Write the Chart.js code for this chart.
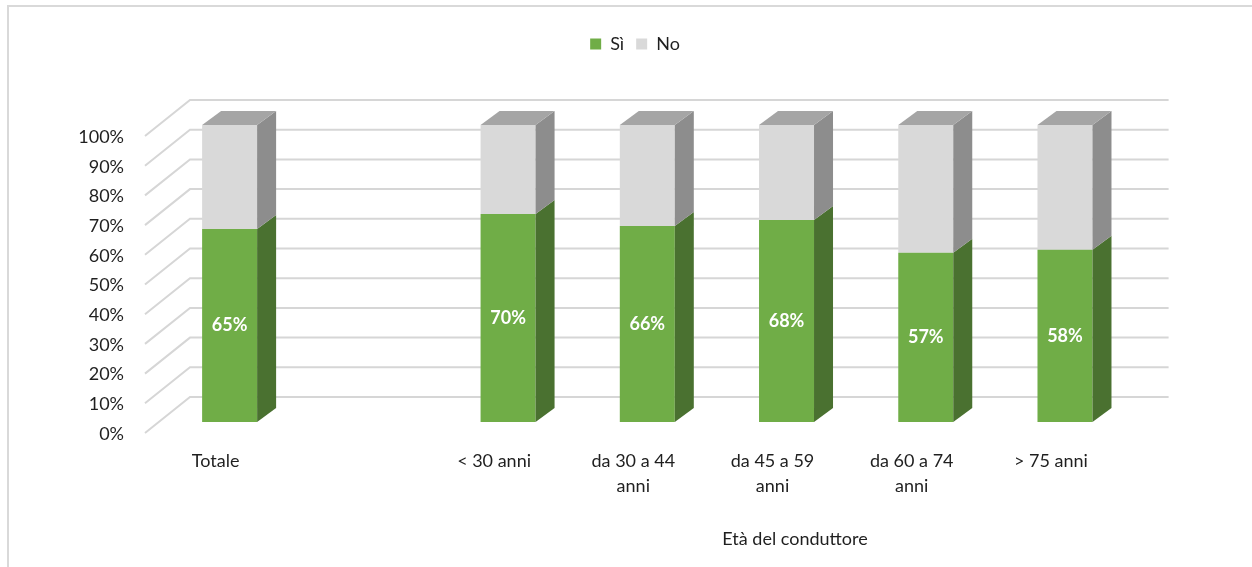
<!DOCTYPE html>
<html>
<head>
<meta charset="utf-8">
<script src="https://cdn.jsdelivr.net/npm/chart.js@4/dist/chart.umd.min.js"></script>
<style>
  html, body { margin: 0; padding: 0; background: #fff; }
  #wrap { width: 1252px; height: 567px; position: relative; }
</style>
</head>
<body>
<div id="wrap"><canvas id="chart"></canvas></div>
<script>
// Categories (the blank slot separates the overall total from the age classes)
const categories = ['Totale', '', '< 30 anni', ['da 30 a 44', 'anni'], ['da 45 a 59', 'anni'], ['da 60 a 74', 'anni'], '> 75 anni'];
const siValues = [65, null, 70, 66, 68, 57, 58];
const noValues = [35, null, 30, 34, 32, 43, 42];
const seriesNames = ['Sì', 'No'];
const yTickValues = [0, 10, 20, 30, 40, 50, 60, 70, 80, 90, 100];
const xAxisTitle = 'Età del conduttore';

const TEXT = '#1f1f1f';
const FRONT = ['#70ad47', '#d9d9d9'];
const SIDE = ['#4a7130', '#8d8d8d'];
const TOP = ['#5f9139', '#a5a5a5'];
const GRID = '#d6d6d6';

// pseudo-3D geometry (pixels)
const DEPTH = { dx: 19, dy: -14 };      // bar depth
const WALL_BACK = { dx: 30, dy: -25 };  // back wall relative to bar front plane
const WALL_FRONT = { dx: -15, dy: 11 }; // front edge of the side wall

Chart.defaults.font.family = 'Lato, "Open Sans", sans-serif';
Chart.defaults.color = TEXT;

// Walls: back-wall gridlines and side-wall diagonals, drawn behind the bars
const wallsPlugin = {
  id: 'walls',
  beforeDraw(chart) {
    const ctx = chart.ctx;
    ctx.save();
    ctx.strokeStyle = '#d9d9d9';
    ctx.lineWidth = 2;
    ctx.strokeRect(8, 6, 1400, 800);
    ctx.restore();
  },
  beforeDatasetsDraw(chart) {
    const { ctx, chartArea, scales: { y } } = chart;
    ctx.save();
    ctx.strokeStyle = GRID;
    ctx.lineWidth = 2;
    yTickValues.forEach(v => {
      const py = y.getPixelForValue(v);
      ctx.beginPath();
      ctx.moveTo(chartArea.left + WALL_FRONT.dx, py + WALL_FRONT.dy);
      ctx.lineTo(chartArea.left + WALL_BACK.dx, py + WALL_BACK.dy);
      ctx.lineTo(chartArea.right + WALL_BACK.dx + 4, py + WALL_BACK.dy);
      ctx.stroke();
    });
    ctx.restore();
  }
};

// Side and top faces of each column, plus value labels on the green segment
const columnsPlugin = {
  id: 'columns3d',
  afterDatasetsDraw(chart) {
    const ctx = chart.ctx;
    const n = chart.data.labels.length;
    ctx.save();
    for (let i = 0; i < n; i++) {
      let topIdx = -1;
      chart.data.datasets.forEach((ds, d) => {
        const el = chart.getDatasetMeta(d).data[i];
        const v = ds.data[i];
        if (v == null || !el) return;
        const r = el.x + el.width / 2;
        const top = Math.min(el.y, el.base), bot = Math.max(el.y, el.base);
        ctx.fillStyle = SIDE[d];
        ctx.beginPath();
        ctx.moveTo(r, top);
        ctx.lineTo(r + DEPTH.dx, top + DEPTH.dy);
        ctx.lineTo(r + DEPTH.dx, bot + DEPTH.dy);
        ctx.lineTo(r, bot);
        ctx.closePath();
        ctx.fill();
        if (v > 0) topIdx = d;
      });
      if (topIdx >= 0) {
        const el = chart.getDatasetMeta(topIdx).data[i];
        const l = el.x - el.width / 2, r = el.x + el.width / 2;
        const top = Math.min(el.y, el.base);
        ctx.fillStyle = TOP[topIdx];
        ctx.beginPath();
        ctx.moveTo(l, top);
        ctx.lineTo(l + DEPTH.dx, top + DEPTH.dy);
        ctx.lineTo(r + DEPTH.dx, top + DEPTH.dy);
        ctx.lineTo(r, top);
        ctx.closePath();
        ctx.fill();
      }
    }
    // value labels
    const meta = chart.getDatasetMeta(0);
    ctx.fillStyle = '#ffffff';
    ctx.font = '700 18px Lato, "Open Sans", sans-serif';
    ctx.textAlign = 'center';
    ctx.textBaseline = 'middle';
    meta.data.forEach((el, i) => {
      const v = siValues[i];
      if (v == null) return;
      ctx.fillText(v + '%', el.x, (el.y + el.base) / 2);
    });
    ctx.restore();
  },
  afterDraw(chart) {
    const ctx = chart.ctx;
    ctx.save();
    ctx.fillStyle = TEXT;
    ctx.font = '18px Lato, "Open Sans", sans-serif';
    ctx.textAlign = 'center';
    ctx.textBaseline = 'middle';
    ctx.fillText(xAxisTitle, 795, 539);
    ctx.restore();
  }
};

// Reserve space under the legend so the plot starts lower
const legendSpacer = {
  id: 'legendSpacer',
  beforeLayout(chart) {
    const lg = chart.legend;
    if (lg && !lg._spaced) {
      const fit = lg.fit;
      lg.fit = function () {
        fit.call(this);
        this.height = 102;
      };
      lg._spaced = true;
    }
  }
};

new Chart(document.getElementById('chart'), {
  type: 'bar',
  data: {
    labels: categories,
    datasets: [
      { label: seriesNames[0], data: siValues, backgroundColor: FRONT[0], borderWidth: 0 },
      { label: seriesNames[1], data: noValues, backgroundColor: FRONT[1], borderWidth: 0 }
    ]
  },
  options: {
    responsive: true,
    maintainAspectRatio: false,
    animation: false,
    devicePixelRatio: 1,
    categoryPercentage: 0.395,
    barPercentage: 1,
    layout: { padding: { top: 23, right: 0, left: 18, bottom: 0 } },
    plugins: {
      legend: {
        position: 'top',
        labels: { boxWidth: 11, boxHeight: 11, padding: 12, font: { size: 18 }, color: TEXT }
      },
      tooltip: { enabled: false }
    },
    scales: {
      x: {
        stacked: true,
        grid: { display: false, drawTicks: false },
        border: { display: false },
        ticks: {
          autoSkip: false, maxRotation: 0, padding: 27, labelOffset: -14,
          font: { size: 18, lineHeight: 1.39 }, color: TEXT
        },
        afterFit(s) { s.height = 145; }
      },
      y: {
        stacked: true,
        min: 0, max: 100,
        grid: { display: false, drawTicks: false },
        border: { display: false },
        ticks: {
          stepSize: 10, padding: 36, labelOffset: 12,
          font: { size: 18 }, color: TEXT,
          callback: v => v + '%'
        },
        afterFit(s) { s.width = 142; }
      },
      yRight: {
        position: 'right',
        min: 0, max: 100,
        grid: { display: false, drawTicks: false },
        border: { display: false },
        ticks: { display: false },
        afterFit(s) { s.width = 117.4; }
      }
    }
  },
  plugins: [wallsPlugin, columnsPlugin, legendSpacer]
});
</script>
</body>
</html>
